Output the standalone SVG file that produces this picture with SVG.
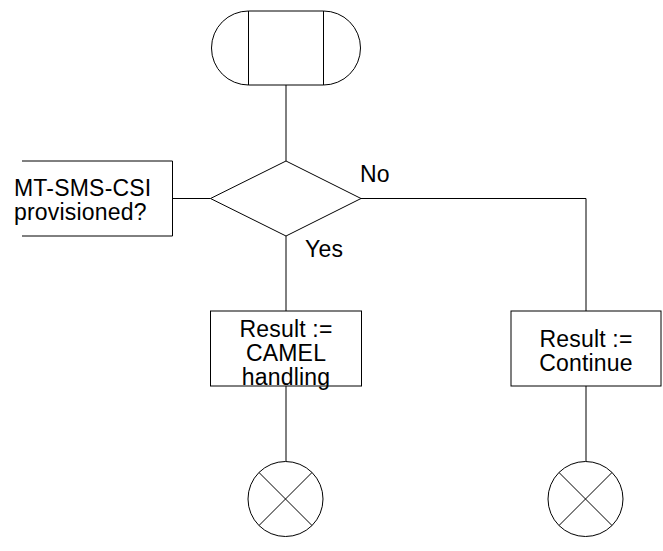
<svg xmlns="http://www.w3.org/2000/svg" width="663" height="551" viewBox="0 0 663 551">
<style>
.s{fill:#fff;stroke:#000;stroke-width:1}
.l{fill:none;stroke:#000;stroke-width:1}
.t{font-family:"Liberation Sans",Arial,sans-serif;font-size:23px;letter-spacing:0.2px;fill:#000}
.c{text-anchor:middle}
</style>
<rect width="663" height="551" fill="#fff"/>
<g id="connectors">
<line class="l" x1="286" y1="85" x2="286" y2="161"/>
<line class="l" x1="172.5" y1="198.5" x2="210.5" y2="198.5"/>
<polyline class="l" points="361,198.5 586,198.5 586,311"/>
<line class="l" x1="286" y1="236" x2="286" y2="311"/>
<line class="l" x1="286" y1="386" x2="286" y2="461.5"/>
<line class="l" x1="586" y1="386" x2="586" y2="461.5"/>
</g>
<g id="start">
<path class="s" d="M248.5,11 A37,37 0 0 0 248.5,85 L323.5,85 A37,37 0 0 0 323.5,11 Z"/>
<line class="l" x1="248.5" y1="11" x2="248.5" y2="85"/>
<line class="l" x1="323.5" y1="11" x2="323.5" y2="85"/>
</g>
<g id="decision">
<polygon class="s" points="286,161 361,198.5 286,236 210.5,198.5"/>
</g>
<g id="comment">
<polyline class="l" points="22,161 172.5,161 172.5,236 22,236"/>
<text class="t" x="14" y="196">MT-SMS-CSI</text>
<text class="t" x="14" y="220">provisioned?</text>
</g>
<g id="label-no"><text class="t" x="360" y="182">No</text></g>
<g id="label-yes"><text class="t" x="305" y="257">Yes</text></g>
<g id="camel">
<rect class="s" x="210.5" y="311" width="151" height="75"/>
<text class="t c" x="286" y="337">Result :=</text>
<text class="t c" x="286" y="361">CAMEL</text>
<text class="t c" x="286" y="385">handling</text>
</g>
<g id="continue">
<rect class="s" x="511" y="311" width="150" height="75"/>
<text class="t c" x="586" y="347">Result :=</text>
<text class="t c" x="586" y="371">Continue</text>
</g>
<g id="end1">
<circle class="s" cx="285.5" cy="499" r="37.5"/>
<line class="l" x1="259" y1="472.5" x2="312" y2="525.5"/>
<line class="l" x1="312" y1="472.5" x2="259" y2="525.5"/>
</g>
<g id="end2">
<circle class="s" cx="585.5" cy="499" r="37.5"/>
<line class="l" x1="559" y1="472.5" x2="612" y2="525.5"/>
<line class="l" x1="612" y1="472.5" x2="559" y2="525.5"/>
</g>
</svg>
